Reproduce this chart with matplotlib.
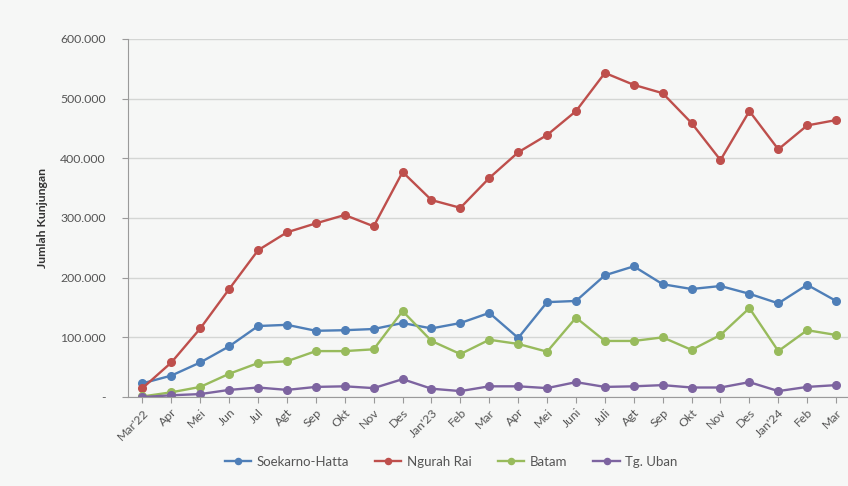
import matplotlib
matplotlib.use("Agg")
import matplotlib.pyplot as plt
from matplotlib.ticker import FuncFormatter

months = ["Mar'22", "Apr", "Mei", "Jun", "Jul", "Agt", "Sep", "Okt", "Nov", "Des",
          "Jan'23", "Feb", "Mar", "Apr", "Mei", "Juni", "Juli", "Agt", "Sep", "Okt",
          "Nov", "Des", "Jan'24", "Feb", "Mar"]

soekarno_hatta = [23000, 36000, 58000, 85000, 119000, 121000, 111000, 112000, 114000, 124000,
                  115000, 124000, 141000, 99000, 159000, 161000, 204000, 219000, 189000, 181000,
                  186000, 173000, 157000, 188000, 161000]
ngurah_rai = [15000, 58000, 115000, 181000, 246000, 276000, 291000, 305000, 286000, 377000,
              330000, 317000, 367000, 410000, 439000, 479000, 543000, 523000, 509000, 459000,
              397000, 479000, 415000, 455000, 464000]
batam = [1000, 8000, 17000, 39000, 57000, 60000, 77000, 77000, 80000, 144000,
         94000, 72000, 96000, 89000, 76000, 133000, 94000, 94000, 100000, 79000,
         104000, 149000, 77000, 112000, 104000]
tg_uban = [0, 3000, 5000, 12000, 16000, 12000, 17000, 18000, 15000, 30000,
           14000, 10000, 18000, 18000, 15000, 25000, 17000, 18000, 20000, 16000,
           16000, 25000, 10000, 17000, 20000]

series = [("Soekarno-Hatta", soekarno_hatta, "#4f7fb8"),
          ("Ngurah Rai", ngurah_rai, "#be4f4c"),
          ("Batam", batam, "#98bb5c"),
          ("Tg. Uban", tg_uban, "#7d64a0")]

plt.rcParams['font.family'] = ['Lato', 'DejaVu Sans']
bg = "#f6f7f6"
fig = plt.figure(figsize=(8.48, 4.86), dpi=100, facecolor=bg)
ax = fig.add_axes([0.151, 0.183, 0.852, 0.737], facecolor=bg)

x = list(range(len(months)))
for name, vals, col in series:
    ax.plot(x, vals, color=col, lw=1.7, marker='o', markersize=5.5, label=name)

ax.set_xlim(-0.5, 24.5)
ax.set_ylim(0, 600000)
ax.set_yticks(range(0, 600001, 100000))
ax.yaxis.set_major_formatter(FuncFormatter(lambda v, p: "-" if v == 0 else f"{int(v):,}".replace(",", ".")))
ax.grid(axis='y', color='#d4d6d4', lw=1)
ax.set_axisbelow(True)
ax.set_xticks(x)
ax.set_xticklabels(months, rotation=45, ha='right', rotation_mode='anchor')

for s in ['top', 'right']:
    ax.spines[s].set_visible(False)
ax.spines['left'].set_color('#9a9a9a')
ax.spines['bottom'].set_color('#9a9a9a')
ax.tick_params(axis='both', colors='#9a9a9a', labelcolor='#555555', labelsize=8.8, length=4)
ax.tick_params(axis='y', pad=12)
ax.tick_params(axis='x', pad=3)

ax.set_ylabel("Jumlah Kunjungan", fontsize=8.8, color='#333333', labelpad=9, fontweight='bold')

leg = ax.legend(loc='center', bbox_to_anchor=(0.447, -0.18), ncol=4, frameon=False,
                fontsize=9.5, handlelength=2, columnspacing=2.0, handletextpad=0.4,
                markerscale=0.8)
for t in leg.get_texts():
    t.set_color('#555555')

fig.savefig("out.png", dpi=100, facecolor=bg)
